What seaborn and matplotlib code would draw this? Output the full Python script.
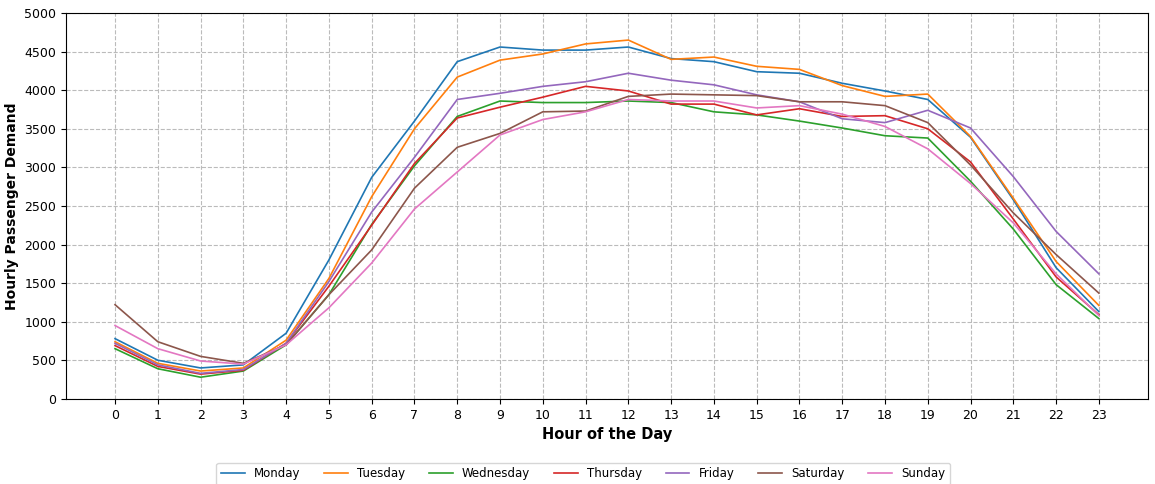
import numpy as np
import pandas as pd
import matplotlib
matplotlib.use("Agg")
import matplotlib.pyplot as plt
import seaborn as sns

hours = list(range(24))
days = ["Monday", "Tuesday", "Wednesday", "Thursday", "Friday", "Saturday", "Sunday"]

monday = [780, 500, 400, 440, 850, 1800, 2870, 3600, 4370, 4560, 4520, 4520,
          4560, 4410, 4370, 4240, 4220, 4090, 3990, 3880, 3390, 2580, 1700, 1130]
tuesday = [740, 460, 360, 400, 760, 1560, 2620, 3500, 4170, 4390, 4470, 4600,
           4650, 4400, 4430, 4310, 4270, 4060, 3920, 3950, 3400, 2600, 1780, 1210]
wednesday = [650, 390, 280, 360, 700, 1350, 2260, 3020, 3660, 3860, 3840, 3840,
             3860, 3840, 3720, 3680, 3600, 3510, 3410, 3380, 2820, 2200, 1480, 1040]
thursday = [690, 420, 320, 370, 720, 1460, 2250, 3050, 3640, 3780, 3910, 4050,
            3990, 3820, 3820, 3680, 3760, 3660, 3670, 3500, 3070, 2330, 1580, 1090]
friday = [720, 440, 330, 380, 720, 1520, 2420, 3130, 3880, 3960, 4050, 4110,
          4220, 4130, 4070, 3940, 3850, 3630, 3580, 3740, 3510, 2880, 2170, 1620]
saturday = [1220, 740, 550, 460, 700, 1350, 1930, 2730, 3260, 3440, 3720, 3730,
            3920, 3950, 3940, 3930, 3850, 3850, 3800, 3580, 3030, 2410, 1870, 1370]
sunday = [950, 650, 490, 450, 700, 1180, 1760, 2460, 2940, 3420, 3620, 3720,
          3880, 3860, 3860, 3770, 3800, 3690, 3530, 3240, 2790, 2280, 1620, 1080]

series = [monday, tuesday, wednesday, thursday, friday, saturday, sunday]
rows = []
for d, vals in zip(days, series):
    for h, v in zip(hours, vals):
        rows.append({"Hour": h, "Demand": v, "Day": d})
df = pd.DataFrame(rows)

fig = plt.figure(figsize=(11.55, 4.84), dpi=100)
ax = fig.add_axes([0.057, 0.176, 0.937, 0.797])
sns.lineplot(data=df, x="Hour", y="Demand", hue="Day", hue_order=days,
             palette=sns.color_palette("tab10", 7), linewidth=1.2, ax=ax, legend=True)
ax.set_xticks(hours)
ax.set_ylim(0, 5000)
ax.set_yticks(range(0, 5001, 500))
ax.tick_params(labelsize=9)
ax.grid(True, linestyle="--", color="#bbbbbb", linewidth=0.8)
ax.set_xlabel("Hour of the Day", fontsize=10.5, fontweight="bold")
ax.set_ylabel("Hourly Passenger Demand", fontsize=10, fontweight="bold")
handles, labels = ax.get_legend_handles_labels()
ax.get_legend().remove()
fig.legend(handles, labels, loc="upper center", bbox_to_anchor=(0.505, 0.044),
           borderaxespad=0, ncol=7, fontsize=8.5, frameon=True,
           columnspacing=2.0, handlelength=2.0)
fig.savefig("out.png", dpi=100)
